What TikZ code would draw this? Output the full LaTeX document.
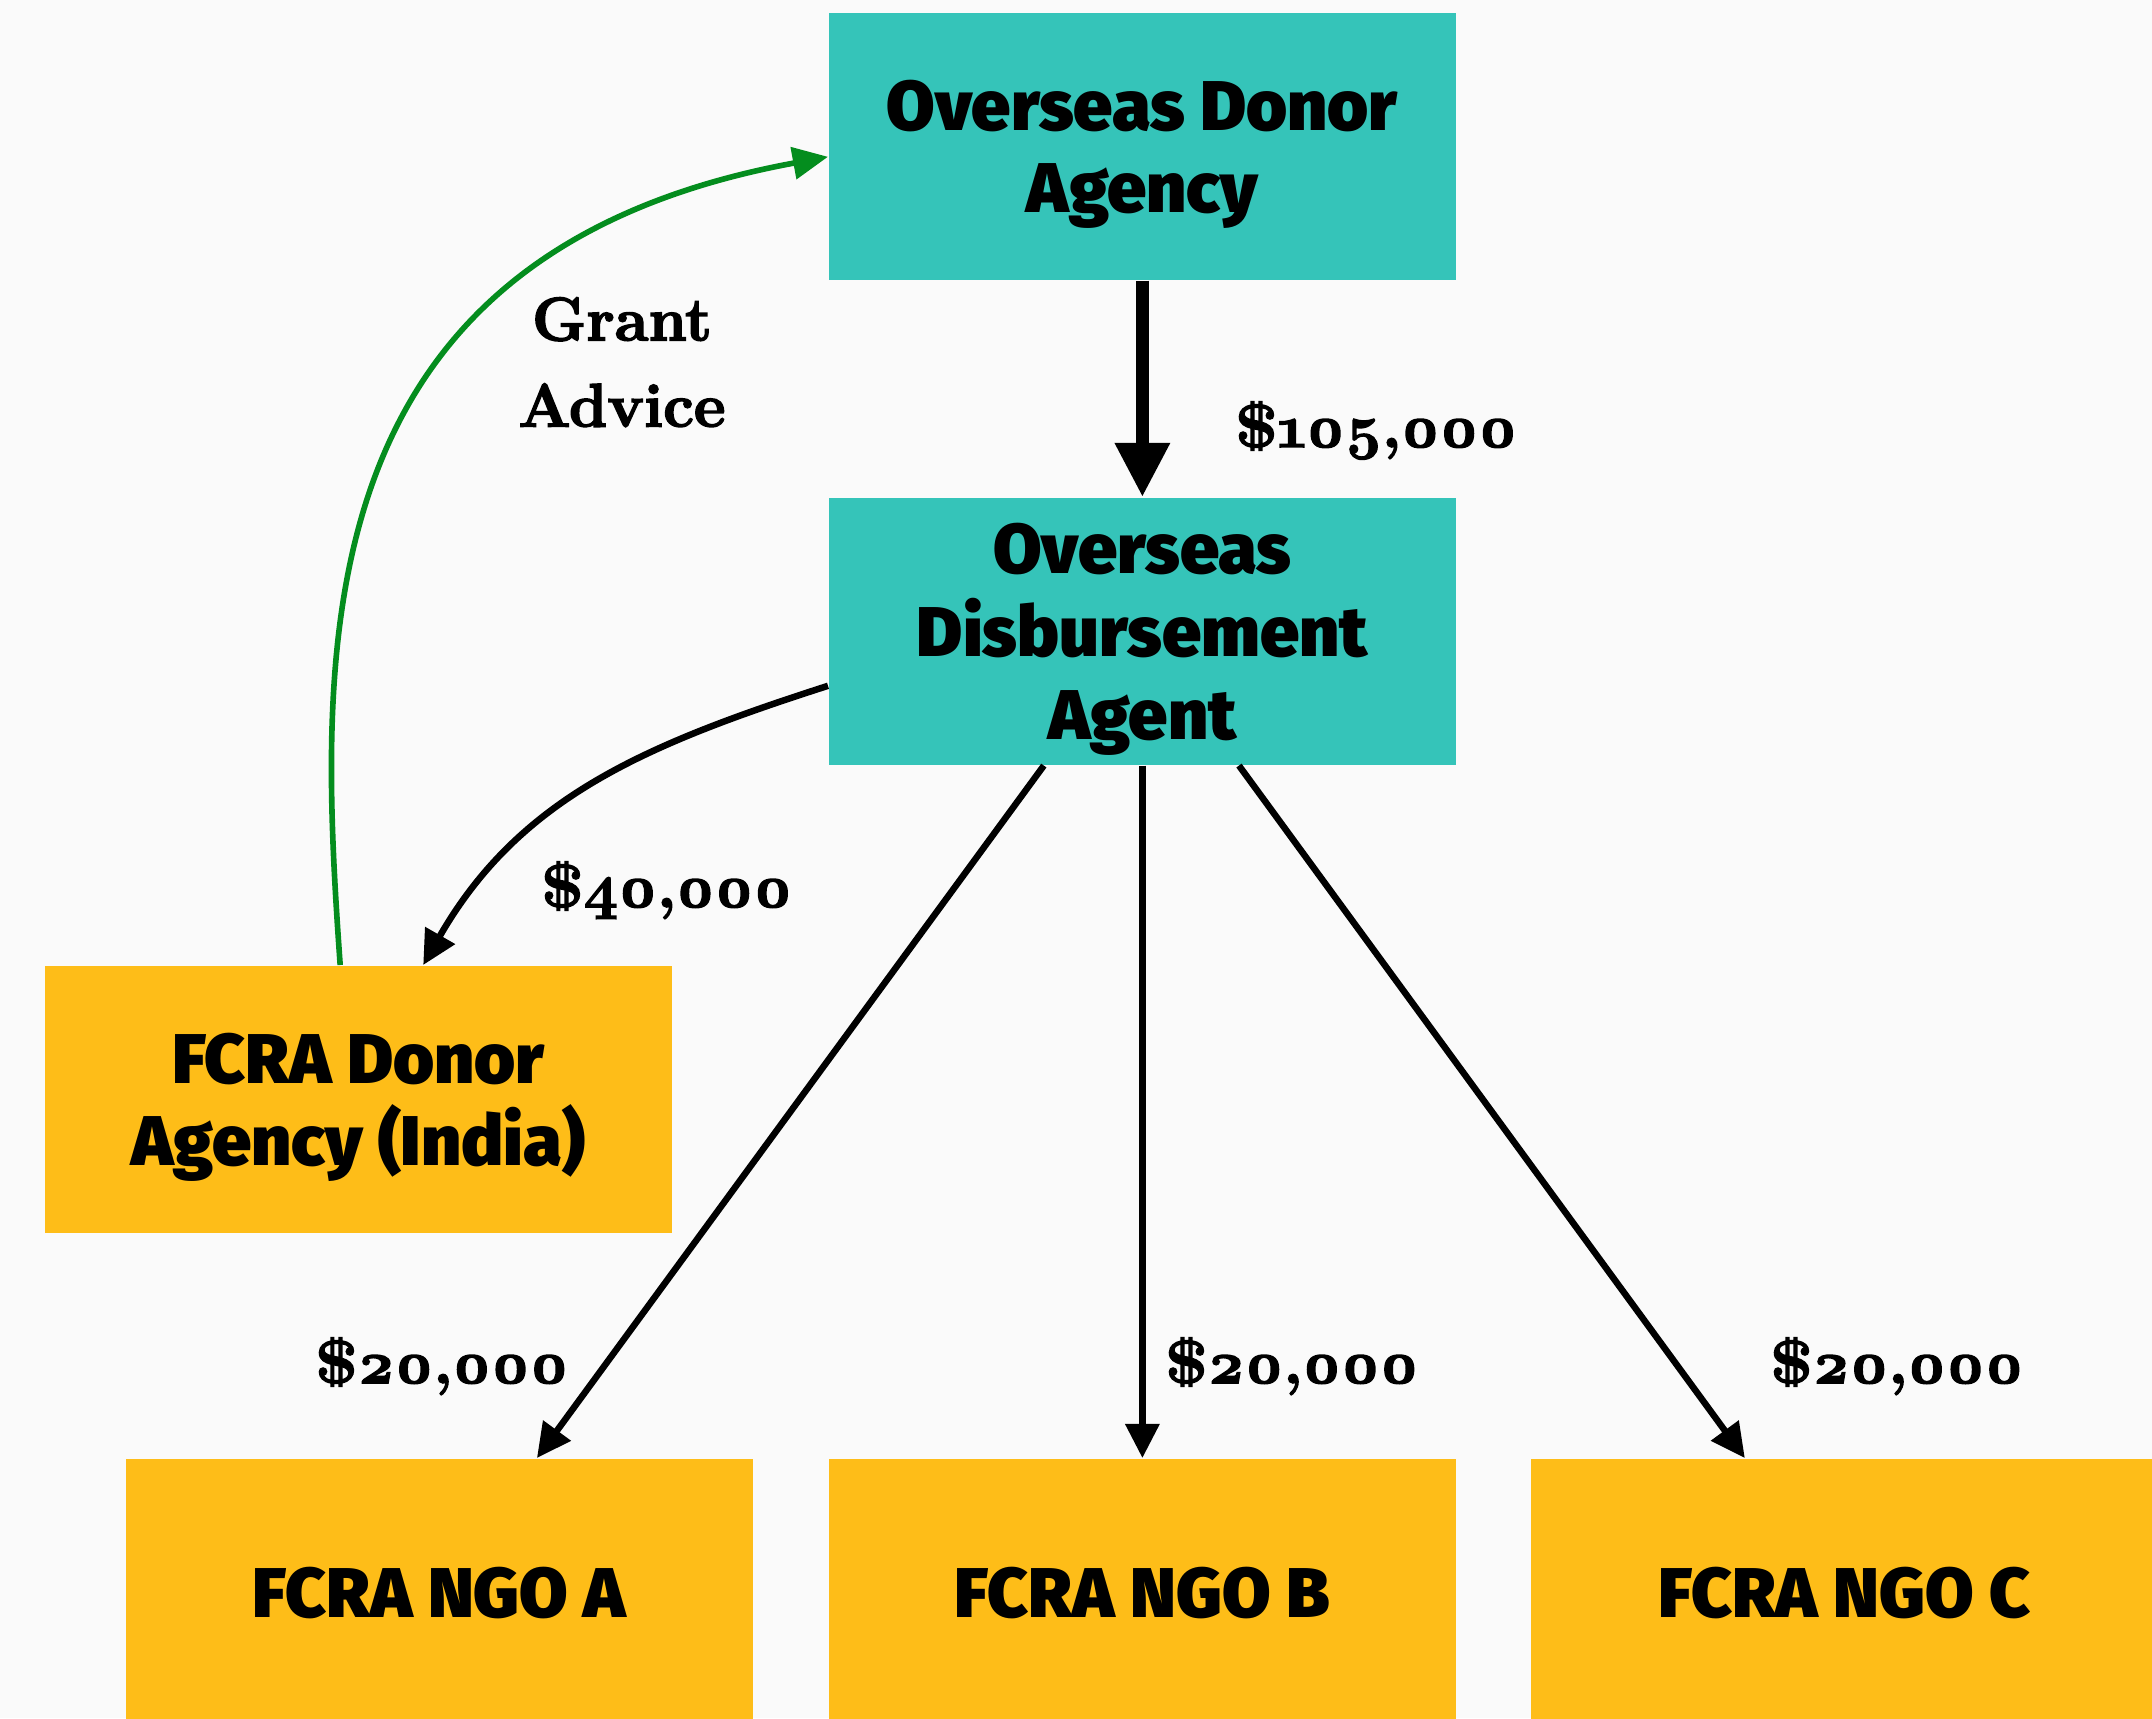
\documentclass[tikz,border=0pt]{standalone}
\usepackage{fontspec}
\newfontfamily\boxfont{Fira Sans Black}
\newfontfamily\lblfont{Latin Modern Roman}[Numbers=OldStyle, BoldFeatures={FakeBold=2.5}]
\usetikzlibrary{arrows.meta}
\definecolor{bgc}{RGB}{250,250,250}
\definecolor{tealbox}{RGB}{53,196,185}
\definecolor{ambox}{RGB}{254,189,24}
\definecolor{grn}{RGB}{4,141,30}
\begin{document}
\begin{tikzpicture}[x=0.01cm,y=-0.01cm,
  box/.style={rectangle, anchor=north west, minimum width=6.27cm, minimum height=2.67cm,
    inner sep=0pt, align=center, text depth=0pt, font=\boxfont\fontsize{20}{23.5}\selectfont},
  tealnode/.style={box, fill=tealbox},
  ambernode/.style={box, fill=ambox},
  money/.style={anchor=base west, inner sep=0pt, font=\lblfont\bfseries\fontsize{17.2}{22}\selectfont},
  flow/.style={draw=black, line width=1.85pt, -{Triangle[length=9.7pt,width=9.4pt]}},
  bigflow/.style={draw=black, line width=3.6pt, -{Triangle[length=15.4pt,width=14.8pt]}},
  advice/.style={draw=grn, line width=1.6pt, -{Triangle[length=10pt,width=9pt]}}
]
\path[fill=bgc] (0,0) rectangle (2152,1718);
\useasboundingbox (0,0) rectangle (2152,1718);

\node[tealnode] (donor) at (828,12) {Overseas Donor\\Agency};
\node[tealnode] (disb) at (828,497) {Overseas\\Disbursement\\Agent};
\node[ambernode] (fcra) at (44,965) {FCRA Donor\\Agency (India)};
\node[ambernode] (ngoa) at (125,1458) {FCRA NGO A};
\node[ambernode] (ngob) at (828,1458) {FCRA NGO B};
\node[ambernode] (ngoc) at (1530,1458) {FCRA NGO C};

\draw[bigflow] (donor.south) -- (disb.north);
\draw[flow] ([yshift=-0.545cm]disb.west) .. controls (644,745) and (519,798) .. ([xshift=3.79cm]fcra.north west);
\draw[advice] ([xshift=2.96cm]fcra.north west) .. controls (318,650) and (300,254) .. ([yshift=-0.105cm]donor.west);
\draw[flow] ([xshift=-0.985cm]disb.south) -- ([xshift=0.975cm]ngoa.north);
\draw[flow] (disb.south) -- (ngob.north);
\draw[flow] ([xshift=0.965cm]disb.south) -- ([xshift=-0.995cm]ngoc.north);

\node[money] (l105) at (1235,447) {\$105,000};
\node[money] (l40) at (541,907) {\$40,000};
\node[money] (l20a) at (315,1383) {\$20,000};
\node[money] (l20b) at (1165,1383) {\$20,000};
\node[money] (l20c) at (1770,1383) {\$20,000};
\node[font=\lblfont\bfseries\fontsize{17.5}{24.5}\selectfont, align=center, inner sep=0pt, text depth=0pt] (grant) at (622,362) {Grant\\Advice};
\end{tikzpicture}
\end{document}
